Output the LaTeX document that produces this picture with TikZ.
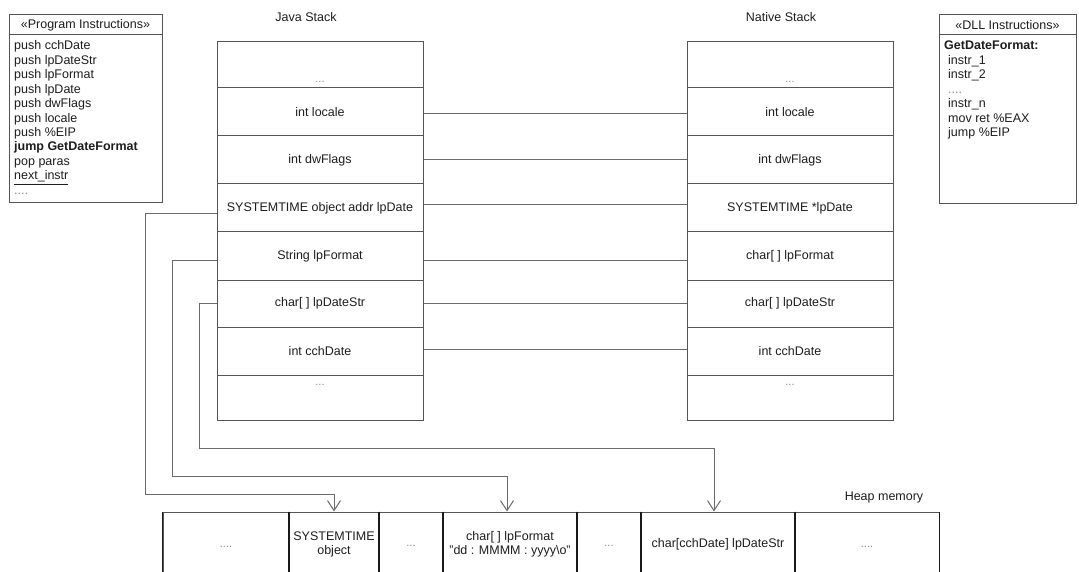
\documentclass[tikz,border=0pt]{standalone}
\usepackage{fontspec}
\setmainfont{Liberation Sans}
\usetikzlibrary{arrows.meta,fit}

\definecolor{ink}{HTML}{1E1E1E}
\definecolor{edge}{HTML}{555555}
\definecolor{wirec}{HTML}{6A6A6A}
\definecolor{dotc}{HTML}{8A8A8A}

\newcommand\fourdots{\textcolor{dotc}{....}}

\tikzset{
  lbl/.style={font=\fontsize{12.5}{14}\selectfont, text=ink, inner sep=0pt},
  dotlbl/.style={font=\fontsize{11}{13}\selectfont, text=dotc, inner sep=0pt},
  frame/.style={draw=edge, line width=1pt, inner sep=0pt},
  cell/.style={draw=edge, line width=1pt, inner sep=0pt},
  heapcell/.style={draw=edge, line width=1pt, inner sep=0pt},
  divider/.style={draw=black!90, line width=1.4pt},
  wire/.style={draw=wirec, line width=1pt},
  ptr/.style={wire, -{Straight Barb[length=10pt,width=13pt,line width=1pt]}},
}

\begin{document}
\begin{tikzpicture}[x=1pt,y=-1pt]
\useasboundingbox (0,0) rectangle (1079,572);
\clip (0,0) rectangle (1079,572);
\fill[white] (0,0) rectangle (1079,572);

% ---- program instructions ----
\node[frame, fit={(9,15)(162,35)}] (prghead) {};
\node[frame, fit={(9,35)(162,203)}] (prgbody) {};
\node[lbl] (prgtitle) at (prghead.center) {«Program Instructions»};
\foreach \t [count=\i from 0] in {push cchDate, push lpDateStr, push lpFormat,
    push lpDate, push dwFlags, push locale, push \%EIP,
    {\bfseries jump GetDateFormat}, pop paras, \underline{next\_instr}, \fourdots}
  \node[lbl, anchor=base west] (prg\i) at ({14},{49.8+14.45*\i}) {\t};

% ---- DLL instructions ----
\node[frame, fit={(939,15)(1076,35)}] (dllhead) {};
\node[frame, fit={(939,35)(1076,204)}] (dllbody) {};
\node[lbl] (dlltitle) at (dllhead.center) {«DLL Instructions»};
\node[lbl, anchor=base west] (dll0) at (944,49.8) {\bfseries GetDateFormat:};
\foreach \t [count=\i] in {instr\_1, instr\_2, \fourdots, instr\_n, mov ret \%EAX, jump \%EIP}
  \node[lbl, anchor=base west] (dll\i) at ({948},{49.8+14.45*\i}) {\t};

% ---- the two stacks ----
\node[lbl] (javatitle) at (306,17) {Java Stack};
\node[lbl] (nativetitle) at (781,17) {Native Stack};
\foreach \ya/\yb [count=\r] in {42/88, 88/136, 136/184, 184/232, 232/280, 280/327.5, 327.5/375, 375/420} {
  \node[cell, fit={(217,\ya)(423,\yb)}] (j\r) {};
  \node[cell, fit={(687,\ya)(893,\yb)}] (n\r) {};
}
\node[dotlbl] (jl1) at (320,82) {...};
\node[lbl] (jl2) at (j2.center) {int locale};
\node[lbl] (jl3) at (j3.center) {int dwFlags};
\node[lbl] (jl4) at (j4.center) {SYSTEMTIME object addr lpDate};
\node[lbl] (jl5) at (j5.center) {String lpFormat};
\node[lbl] (jl6) at (j6.center) {char[ ] lpDateStr};
\node[lbl] (jl7) at (j7.center) {int cchDate};
\node[dotlbl] (jl8) at (320,385) {...};

\node[dotlbl] (nl1) at (790,82) {...};
\node[lbl] (nl2) at (n2.center) {int locale};
\node[lbl] (nl3) at (n3.center) {int dwFlags};
\node[lbl] (nl4) at (n4.center) {SYSTEMTIME *lpDate};
\node[lbl] (nl5) at (n5.center) {char[ ] lpFormat};
\node[lbl] (nl6) at (n6.center) {char[ ] lpDateStr};
\node[lbl] (nl7) at (n7.center) {int cchDate};
\node[dotlbl] (nl8) at (790,385) {...};

% parameter correspondence between the stacks
\draw[wire] ([yshift=-2pt]j2.east) -- ([yshift=-2pt]n2.west);
\draw[wire] (j3.east) -- (n3.west);
\draw[wire] ([yshift=3pt]j4.east) -- ([yshift=3pt]n4.west);
\draw[wire] ([yshift=-4pt]j5.east) -- ([yshift=-4pt]n5.west);
\draw[wire] (j6.east) -- (n6.west);
\draw[wire] ([yshift=2pt]j7.east) -- ([yshift=2pt]n7.west);

% ---- heap ----
\node[lbl] (heaptitle) at (884,497) {Heap memory};
\foreach \xa/\xb [count=\c] in {163/289, 289/379, 379/443, 443/577, 577/641, 641/795, 795/939}
  \node[heapcell, fit={(\xa,512)(\xb,582)}] (h\c) {};
% cell boundaries are drawn darker than the outline
\foreach \c in {1,...,7} {
  \draw[divider] (h\c.north west) -- (h\c.south west);
  \draw[divider] (h\c.north east) -- (h\c.south east);
}
\node[dotlbl] (hl1) at (226,547) {....};
\node[lbl, align=center] (hl2) at (334,544) {SYSTEMTIME\\object};
\node[dotlbl] (hl3) at (411,546) {...};
\node[lbl, align=center] (hl4) at (510,544) {char[ ] lpFormat\\"dd : MMMM : yyyy\textbackslash o"};
\node[dotlbl] (hl5) at (609,546) {...};
\node[lbl] (hl6) at (718,544) {char[cchDate] lpDateStr};
\node[dotlbl] (hl7) at (867,547) {....};

% references from the Java stack into the heap
\coordinate (busA) at (145,494);
\coordinate (busB) at (172,476);
\coordinate (busC) at (199,448);
\draw[ptr] ([yshift=-6pt]j4.west) -| (busA) -| (h2.north);
\draw[ptr] ([yshift=-4pt]j5.west) -| (busB) -| ([xshift=-3pt]h4.north);
\draw[ptr] (j6.west) -| (busC) -| ([xshift=-4pt]h6.north);
\end{tikzpicture}
\end{document}
